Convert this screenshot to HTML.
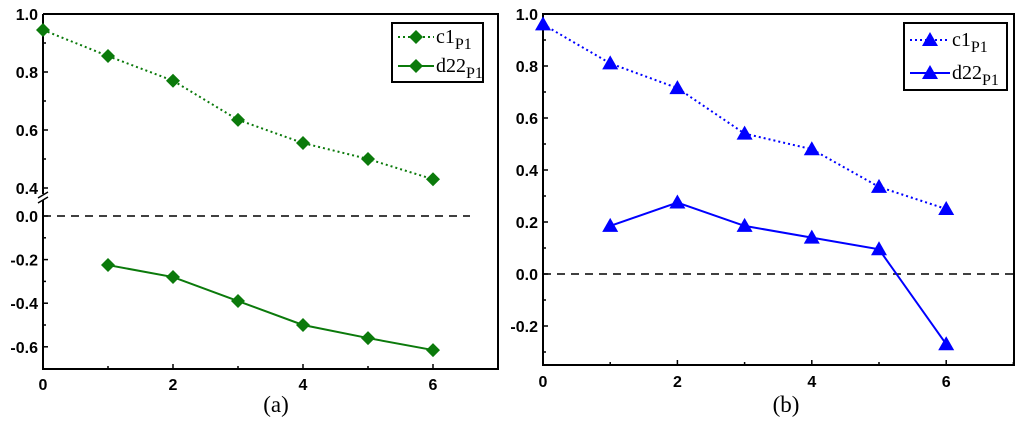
<!DOCTYPE html>
<html><head><meta charset="utf-8"><style>
body{margin:0;background:#fff;}
</style></head><body>
<svg id="c" width="1024" height="420" xmlns="http://www.w3.org/2000/svg"></svg>
<script>
const xs = [0,1,2,3,4,5,6];
const aC1 = [0.945,0.855,0.77,0.635,0.555,0.5,0.43];
const aD22X = [1,2,3,4,5,6];
const aD22 = [-0.225,-0.28,-0.39,-0.5,-0.56,-0.615];
const bC1 = [0.96,0.81,0.715,0.54,0.48,0.335,0.25];
const bD22X = [1,2,3,4,5,6];
const bD22 = [0.185,0.275,0.185,0.14,0.095,-0.27];
const xTicks = [0,2,4,6];
const aYTicksTop = [1.0,0.8,0.6,0.4];
const aYTicksBot = [0.0,-0.2,-0.4,-0.6];
const bYTicks = [1.0,0.8,0.6,0.4,0.2,0.0,-0.2];

const NS="http://www.w3.org/2000/svg";
const svg=document.getElementById('c');
const TICK='font:bold 16px "Liberation Sans",sans-serif;';
const LEG='font:20px "Liberation Serif",serif;';
const CAP='font:23px "Liberation Serif",serif;';
function el(t,a,p){const e=document.createElementNS(NS,t);for(const k in a)e.setAttribute(k,a[k]);(p||svg).appendChild(e);return e;}
function fmt(v){return (Math.abs(v)<1e-9?0:v).toFixed(1);}

function diamond(x,y,col,g){return el('polygon',{points:`${x},${y-7} ${x+7},${y} ${x},${y+7} ${x-7},${y}`,fill:col},g);}
function tri(x,y,col,g){return el('polygon',{points:`${x},${y-8} ${x+8},${y+6} ${x-8},${y+6}`,fill:col},g);}

// Panel A
(function(){
  const g=el('g',{});
  
  
  const X0=43,XU=65,top=14,bottom=369,right=498;
  const sx=v=>X0+v*XU;
  const syT=v=>14+(1.0-v)*290;
  const syB=v=>216-v*218;
  const sy=v=>v>=0.3?syT(v):syB(v);
  el('path',{d:`M${X0},${top} L${right},${top} L${right},${bottom} L${X0},${bottom} L${X0},200 M${X0},194 L${X0},${top}`,fill:'none',stroke:'#000','stroke-width':2},g);
  el('path',{d:`M${X0-5},198 L${X0+5},192 M${X0-5},203 L${X0+5},197`,stroke:'#000','stroke-width':1.5},g);
  el('line',{x1:X0,y1:syB(0),x2:470,y2:syB(0),stroke:'#000','stroke-width':1.5,'stroke-dasharray':'8,6'},g);
  for(let v=0;v<=7;v++){el('line',{x1:sx(v),y1:bottom,x2:sx(v),y2:bottom-(v%2?3:5),stroke:'#000','stroke-width':1.5},g);}
  xTicks.forEach(v=>{const t=el('text',{x:sx(v),y:bottom+21,'text-anchor':'middle',style:TICK},g);t.textContent=v;});
  aYTicksTop.forEach(v=>{el('line',{x1:X0,y1:syT(v),x2:X0+5,y2:syT(v),stroke:'#000','stroke-width':1.5},g);const t=el('text',{x:X0-5,y:syT(v)+6,'text-anchor':'end',style:TICK},g);t.textContent=fmt(v);});
  [0.9,0.7,0.5].forEach(v=>el('line',{x1:X0,y1:syT(v),x2:X0+3,y2:syT(v),stroke:'#000','stroke-width':1.5},g));
  aYTicksBot.forEach(v=>{el('line',{x1:X0,y1:syB(v),x2:X0+5,y2:syB(v),stroke:'#000','stroke-width':1.5},g);const t=el('text',{x:X0-5,y:syB(v)+6,'text-anchor':'end',style:TICK},g);t.textContent=fmt(v);});
  [-0.1,-0.3,-0.5].forEach(v=>el('line',{x1:X0,y1:syB(v),x2:X0+3,y2:syB(v),stroke:'#000','stroke-width':1.5},g));
  const col='#0b7a0b';
  el('polyline',{points:xs.map((x,i)=>sx(x)+','+sy(aC1[i])).join(' '),fill:'none',stroke:col,'stroke-width':2,'stroke-dasharray':'2,3'},g);
  el('polyline',{points:aD22X.map((x,i)=>sx(x)+','+sy(aD22[i])).join(' '),fill:'none',stroke:col,'stroke-width':2},g);
  xs.forEach((x,i)=>{const m=diamond(sx(x),sy(aC1[i]),col,g);});
  aD22X.forEach((x,i)=>{const m=diamond(sx(x),sy(aD22[i]),col,g);});
  const lg=el('g',{},g);
  el('rect',{x:392,y:23,width:91,height:59,fill:'#fff',stroke:'#000','stroke-width':2},lg);
  el('line',{x1:398,y1:37,x2:434,y2:37,stroke:col,'stroke-width':2,'stroke-dasharray':'2,3'},lg);diamond(416,37,col,lg);
  el('line',{x1:398,y1:66,x2:434,y2:66,stroke:col,'stroke-width':2},lg);diamond(416,66,col,lg);
  let t=el('text',{x:436,y:43,style:LEG},lg);t.innerHTML='c1<tspan dy="6" style="font-size:16px">P1</tspan>';
  t=el('text',{x:436,y:72,style:LEG},lg);t.innerHTML='d22<tspan dy="6" style="font-size:16px">P1</tspan>';
  t=el('text',{x:276,y:412,'text-anchor':'middle',style:CAP},g);t.textContent='(a)';
  
})();

// Panel B
(function(){
  const g=el('g',{});
  
  
  const X0=543,XU=67.2,top=14,bottom=365,right=1014;
  const sx=v=>X0+v*XU;
  const sy=v=>274-v*260;
  el('rect',{x:X0,y:top,width:right-X0,height:bottom-top,fill:'none',stroke:'#000','stroke-width':2},g);
  el('line',{x1:X0,y1:sy(0),x2:right,y2:sy(0),stroke:'#000','stroke-width':1.5,'stroke-dasharray':'8,6'},g);
  for(let v=0;v<=7;v++){el('line',{x1:sx(v),y1:bottom,x2:sx(v),y2:bottom-(v%2?3:5),stroke:'#000','stroke-width':1.5},g);}
  xTicks.forEach(v=>{const t=el('text',{x:sx(v),y:bottom+22,'text-anchor':'middle',style:TICK},g);t.textContent=v;});
  bYTicks.forEach(v=>{el('line',{x1:X0,y1:sy(v),x2:X0+5,y2:sy(v),stroke:'#000','stroke-width':1.5},g);const t=el('text',{x:X0-5,y:sy(v)+6,'text-anchor':'end',style:TICK},g);t.textContent=fmt(v);});
  [0.9,0.7,0.5,0.3,0.1,-0.1,-0.3].forEach(v=>el('line',{x1:X0,y1:sy(v),x2:X0+3,y2:sy(v),stroke:'#000','stroke-width':1.5},g));
  const col='#0000ff';
  el('polyline',{points:xs.map((x,i)=>sx(x)+','+sy(bC1[i])).join(' '),fill:'none',stroke:col,'stroke-width':2,'stroke-dasharray':'2,3'},g);
  el('polyline',{points:bD22X.map((x,i)=>sx(x)+','+sy(bD22[i])).join(' '),fill:'none',stroke:col,'stroke-width':2},g);
  xs.forEach((x,i)=>{const m=tri(sx(x),sy(bC1[i]),col,g);});
  bD22X.forEach((x,i)=>{const m=tri(sx(x),sy(bD22[i]),col,g);});
  const lg=el('g',{},g);
  el('rect',{x:904,y:23,width:103,height:67,fill:'#fff',stroke:'#000','stroke-width':2},lg);
  el('line',{x1:910,y1:40,x2:950,y2:40,stroke:col,'stroke-width':2,'stroke-dasharray':'2,3'},lg);tri(930,40,col,lg);
  el('line',{x1:910,y1:73,x2:950,y2:73,stroke:col,'stroke-width':2},lg);tri(930,73,col,lg);
  let t=el('text',{x:952,y:46,style:LEG},lg);t.innerHTML='c1<tspan dy="6" style="font-size:16px">P1</tspan>';
  t=el('text',{x:952,y:79,style:LEG},lg);t.innerHTML='d22<tspan dy="6" style="font-size:16px">P1</tspan>';
  t=el('text',{x:786,y:412,'text-anchor':'middle',style:CAP},g);t.textContent='(b)';
  
})();
</script>
</body></html>
